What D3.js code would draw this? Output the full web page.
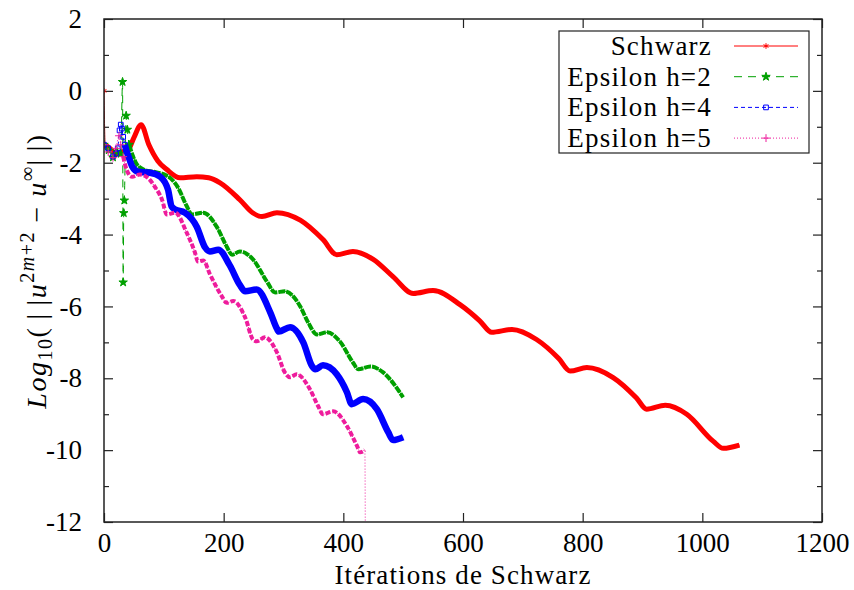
<!DOCTYPE html>
<html>
<head>
<meta charset="utf-8">
<title>Convergence Schwarz / Epsilon</title>
<script src="https://cdn.jsdelivr.net/npm/d3@7"></script>
<style>
  body { margin: 0; background: #fff; }
  text { font-family: "Liberation Serif", "DejaVu Serif", serif; fill: #000; }
</style>
</head>
<body>
<script>
// series: [iteration, log10 error]
var schwarz = [[0,0],[2,-1.5],[10,-1.6],[20,-1.75],[30,-1.7],[40,-1.65],[50,-1.3],[62,-0.94],[75,-1.5],[90,-1.95],
  [105,-2.19],[127,-2.42],[155,-2.39],[175,-2.42],[194,-2.56],[227,-3.03],[249,-3.4],[264,-3.5],[289,-3.39],
  [328,-3.6],[366,-4.14],[389,-4.56],[416,-4.47],[450,-4.69],[483,-5.17],[517,-5.64],[550,-5.56],[595,-5.95],
  [628,-6.4],[648,-6.72],[682,-6.64],[723,-6.92],[760,-7.45],[779,-7.8],[807,-7.7],[851,-7.98],[890,-8.55],
  [907,-8.86],[938,-8.75],[974,-9.0],[1018,-9.75],[1035,-9.95],[1062,-9.86]];

var epsH2 = [[0,-1.5],[8,-1.65],[15,-1.85],[22,-1.7],[28,-1.75],[31,0.25],[32,-5.33],[33,-3.4],[34,-3.05],
  [37,-0.69],[39,-1.08],[42,-1.5],[48,-1.8],[55,-2.05],[68,-2.2],[82,-2.25],[105,-2.36],[124,-2.7],[138,-3.2],
  [147,-3.44],[166,-3.39],[188,-3.77],[205,-4.33],[214,-4.56],[227,-4.47],[249,-4.69],[272,-5.3],[286,-5.61],
  [302,-5.58],[328,-6.0],[341,-6.44],[356,-6.78],[373,-6.72],[394,-6.97],[416,-7.56],[425,-7.75],[445,-7.67],
  [466,-7.83],[500,-8.53]];

var epsH4 = [[0,-1.5],[7,-1.6],[15,-1.83],[20,-1.75],[23,-1.6],[26,-1.1],[28,-0.94],[30,-1.05],[32,-1.28],
  [35,-1.5],[37,-1.64],[40,-1.78],[47,-2.1],[57,-2.25],[77,-2.28],[94,-2.39],[107,-2.75],[113,-3.22],[119,-3.3],
  [135,-3.39],[155,-3.78],[169,-4.36],[177,-4.47],[191,-4.42],[210,-4.85],[227,-5.4],[236,-5.58],[255,-5.53],
  [278,-6.17],[289,-6.62],[292,-6.7],[311,-6.58],[333,-7.0],[348,-7.67],[353,-7.75],[366,-7.64],[389,-7.89],
  [406,-8.39],[414,-8.72],[433,-8.58],[456,-8.86],[475,-9.5],[483,-9.72],[500,-9.64]];

var epsH5 = [[0,-1.5],[7,-1.7],[15,-1.86],[20,-1.6],[25,-1.25],[28,-1.5],[32,-1.83],[38,-2.2],[47,-2.39],
  [60,-2.33],[73,-2.42],[85,-2.67],[97,-3.03],[105,-3.44],[119,-3.39],[138,-3.94],[152,-4.5],[157,-4.75],
  [166,-4.72],[177,-5.1],[197,-5.72],[205,-5.9],[216,-5.85],[236,-6.31],[249,-6.92],[255,-6.97],[269,-6.86],
  [289,-7.28],[302,-7.83],[311,-7.97],[322,-7.89],[344,-8.3],[358,-8.78],[366,-9.0],[383,-8.92],[406,-9.33],
  [423,-9.89],[428,-10.06],[436,-10.0],[437,-14]];

var seriesNames = ["Schwarz", "Epsilon h=2", "Epsilon h=4", "Epsilon h=5"];
var xTicks = [0, 200, 400, 600, 800, 1000, 1200];
var yTicks = [-12, -10, -8, -6, -4, -2, 0, 2];
var yMinor = [-11, -9, -7, -5, -3, -1, 1];

// styles (kept apart from the data)
var styles = [
  { color: "#ff0000", dash: null,  band: 5, bandDash: null,  bandFrom: 2,  sym: d3.symbolAsterisk, fill: false },
  { color: "#00a000", dash: "8,6", band: 4, bandDash: "7,1", bandFrom: 40, sym: d3.symbolStar,     fill: true },
  { color: "#0000ff", dash: "4,3", band: 6.5, bandDash: null, bandFrom: 35, sym: d3.symbolSquare,  fill: false },
  { color: "#ee1c9c", dash: "1,2", band: 4, bandDash: "5,2", bandFrom: 30, sym: d3.symbolPlus,     fill: false }
];
var data = [schwarz, epsH2, epsH4, epsH5];

var W = 854, H = 590;
var mLeft = 104, mRight = 822, mTop = 19, mBottom = 522;

var svg = d3.select("body").append("svg")
    .attr("width", W)
    .attr("height", H);

var x = d3.scaleLinear().domain([0, 1200]).range([mLeft, mRight]);
var y = d3.scaleLinear().domain([-12, 2]).range([mBottom, mTop]);

svg.append("defs").append("clipPath").attr("id", "plot")
  .append("rect")
    .attr("x", mLeft).attr("y", mTop)
    .attr("width", mRight - mLeft).attr("height", mBottom - mTop);

// axes: inward ticks like gnuplot, plain hyphen for negatives
var axisColor = "#222";
var plainFmt = function(d) { return String(d); };
function styleAxis(g) {
  g.select(".domain").remove();
  g.selectAll(".tick line").attr("stroke", axisColor).attr("stroke-width", 1.2);
  g.selectAll(".tick text")
    .attr("fill", "#000")
    .style("font-family", '"Liberation Serif", serif')
    .style("font-size", "27px");
}

svg.append("g")
    .attr("transform", "translate(0," + mBottom + ")")
    .call(d3.axisBottom(x).tickValues(xTicks).tickSize(-9).tickPadding(11).tickFormat(plainFmt))
    .call(styleAxis);

svg.append("g")
    .attr("transform", "translate(0," + mTop + ")")
    .call(d3.axisTop(x).tickValues(xTicks).tickSize(-9).tickFormat(""))
    .call(styleAxis);

svg.append("g")
    .attr("transform", "translate(" + mLeft + ",0)")
    .call(d3.axisLeft(y).tickValues(yTicks).tickSize(-9).tickPadding(22).tickFormat(plainFmt))
    .call(styleAxis);

svg.append("g")
    .attr("transform", "translate(" + mLeft + ",0)")
    .call(d3.axisLeft(y).tickValues(yMinor).tickSize(-5).tickFormat(""))
    .call(styleAxis);

svg.append("g")
    .attr("transform", "translate(" + mRight + ",0)")
    .call(d3.axisRight(y).tickValues(yTicks).tickSize(-9).tickFormat(""))
    .call(styleAxis);

svg.append("g")
    .attr("transform", "translate(" + mRight + ",0)")
    .call(d3.axisRight(y).tickValues(yMinor).tickSize(-5).tickFormat(""))
    .call(styleAxis);

// curves
var line = d3.line()
    .x(function(d) { return x(d[0]); })
    .y(function(d) { return y(d[1]); })
    .curve(d3.curveMonotoneX);

var lines = svg.append("g").attr("clip-path", "url(#plot)");

data.forEach(function(series, i) {
  var s = styles[i];
  // thin connecting line (legend style)
  lines.append("path")
      .datum(series)
      .attr("fill", "none")
      .attr("stroke", i === 0 ? "#b00000" : s.color)
      .attr("stroke-width", 1)
      .attr("stroke-dasharray", s.dash)
      .attr("d", line);
});

data.forEach(function(series, i) {
  var s = styles[i];
  // dense markers appear as a thick band
  var bandData = series.filter(function(d) { return d[0] >= s.bandFrom && d[1] >= -12; });
  lines.append("path")
      .datum(bandData)
      .attr("fill", "none")
      .attr("stroke", s.color)
      .attr("stroke-width", s.band)
      .attr("stroke-linejoin", "round")
      .attr("stroke-dasharray", s.bandDash)
      .attr("d", line);

  lines.selectAll(null)
      .data(series.filter(function(d) { return d[0] < s.bandFrom + 4 && d[1] >= -12; }))
      .enter().append("path")
      .attr("transform", function(d) { return "translate(" + x(d[0]) + "," + y(d[1]) + ")"; })
      .attr("d", d3.symbol().type(s.sym).size(22))
      .attr("fill", s.fill ? s.color : "none")
      .attr("stroke", s.color)
      .attr("stroke-width", 1);
});

// frame
svg.append("rect")
    .attr("x", mLeft).attr("y", mTop)
    .attr("width", mRight - mLeft).attr("height", mBottom - mTop)
    .attr("fill", "none")
    .attr("stroke", axisColor)
    .attr("stroke-width", 1.5);

// legend
var legend = svg.append("g");
legend.append("rect")
    .attr("x", 559).attr("y", 31)
    .attr("width", 250).attr("height", 122)
    .attr("fill", "#fff")
    .attr("stroke", "#222")
    .attr("stroke-width", 1.2);

seriesNames.forEach(function(name, i) {
  var s = styles[i];
  var cy = 46 + i * 30.7;
  legend.append("text")
      .attr("x", 712).attr("y", cy + 9)
      .attr("text-anchor", "end")
      .style("font-size", "27px")
      .style("letter-spacing", "1.2px")
      .text(name);
  legend.append("line")
      .attr("x1", 734).attr("x2", 798)
      .attr("y1", cy).attr("y2", cy)
      .attr("stroke", s.color)
      .attr("stroke-width", 1)
      .attr("stroke-dasharray", s.dash);
  legend.append("path")
      .attr("transform", "translate(766," + cy + ")")
      .attr("d", d3.symbol().type(s.sym).size(22))
      .attr("fill", s.fill ? s.color : "none")
      .attr("stroke", s.color)
      .attr("stroke-width", 1);
});

// axis titles
svg.append("text")
    .attr("x", (mLeft + mRight) / 2)
    .attr("y", 584)
    .attr("text-anchor", "middle")
    .style("font-size", "27px")
    .style("letter-spacing", "1.1px")
    .text("Itérations de Schwarz");

var yl = svg.append("text")
    .attr("transform", "translate(46,271) rotate(-90)")
    .attr("text-anchor", "middle")
    .style("font-size", "28px")
    .style("letter-spacing", "1.5px");
yl.append("tspan").style("font-style", "italic").text("Log");
yl.append("tspan").attr("dy", 6).style("font-size", "20px").text("10");
yl.append("tspan").attr("dy", -6).text("(\u2009|\u2009|");
yl.append("tspan").style("font-style", "italic").text("u");
yl.append("tspan").attr("dy", -12).style("font-size", "20px").text("2");
yl.append("tspan").style("font-size", "20px").style("font-style", "italic").text("m");
yl.append("tspan").style("font-size", "20px").text("+2");
yl.append("tspan").attr("dy", 12).text(" − ");
yl.append("tspan").style("font-style", "italic").text("u");
yl.append("tspan").attr("dy", -12).style("font-size", "20px").text("∞");
yl.append("tspan").attr("dy", 12).text("|\u2009|)");
</script>
</body>
</html>
